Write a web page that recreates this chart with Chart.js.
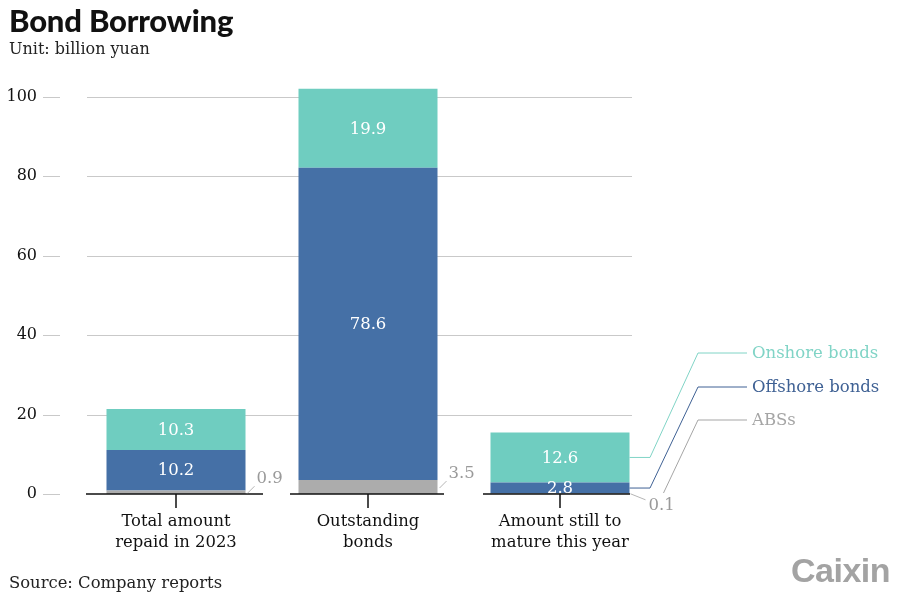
<!DOCTYPE html>
<html>
<head>
<meta charset="utf-8">
<script src="https://cdn.jsdelivr.net/npm/chart.js@4.4.1/dist/chart.umd.min.js"></script>
<style>
  html, body { margin: 0; padding: 0; background: #fff; }
  #wrap { position: relative; width: 900px; height: 599px; overflow: hidden; }
  #c { position: absolute; left: 0; top: 0; }
  .t { position: absolute; left: 9px; white-space: nowrap; }
  #title { top: 1px; font: 900 31px Lato, sans-serif; color: #111; letter-spacing: -0.2px; }
  #unit { top: 39px; font: 16px "DejaVu Serif", serif; color: #222; }
  #src { top: 573px; font: 16.4px "DejaVu Serif", serif; color: #222; }
  #logo { position: absolute; left: 791px; top: 551px; font: bold 34px "Liberation Sans", Arial, sans-serif; color: #a3a3a3; letter-spacing: -0.5px; }
</style>
</head>
<body>
<div id="wrap">
  <canvas id="c" width="900" height="599"></canvas>
  <div class="t" id="title">Bond Borrowing</div>
  <div class="t" id="unit">Unit: billion yuan</div>
  <div class="t" id="src">Source: Company reports</div>
  <div id="logo">Caixin</div>
</div>
<script>
// data
const categories = [['Total amount', 'repaid in 2023'], ['Outstanding', 'bonds'], ['Amount still to', 'mature this year']];
const absValues = [0.9, 3.5, 0.1];
const offshoreValues = [10.2, 78.6, 2.8];
const onshoreValues = [10.3, 19.9, 12.6];
const seriesNames = ['ABSs', 'Offshore bonds', 'Onshore bonds'];
const yTicks = [0, 20, 40, 60, 80, 100];

const SERIF = '"DejaVu Serif", serif';
const colors = { abs: '#acacac', off: '#4570a6', on: '#6fcdc0' };
const labelColors = { abs: '#a5a5a5', off: '#3f6194', on: '#80d4c6' };

// gridlines, ticks, baseline pieces
const axisDecor = {
  id: 'axisDecor',
  beforeDatasetsDraw(chart) {
    const ctx = chart.ctx, y = chart.scales.y;
    ctx.save();
    ctx.strokeStyle = '#c9c9c9';
    ctx.lineWidth = 1;
    yTicks.forEach(v => {
      const py = Math.round(y.getPixelForValue(v)) + 0.5;
      ctx.beginPath();
      ctx.moveTo(43, py); ctx.lineTo(60, py);
      if (v !== 0) { ctx.moveTo(87, py); ctx.lineTo(632, py); }
      ctx.stroke();
    });
    ctx.restore();
  },
  afterDatasetsDraw(chart) {
    const ctx = chart.ctx, x = chart.scales.x, y = chart.scales.y;
    const y0 = y.getPixelForValue(0);
    const ext = [[-90, 87], [-78, 76], [-77, 70]];
    ctx.save();
    ctx.strokeStyle = '#111';
    ctx.lineWidth = 1.5;
    categories.forEach((c, i) => {
      const cx = x.getPixelForValue(i);
      ctx.beginPath();
      ctx.moveTo(cx + ext[i][0], y0); ctx.lineTo(cx + ext[i][1], y0);
      ctx.moveTo(cx, y0); ctx.lineTo(cx, y0 + 14);
      ctx.stroke();
    });
    ctx.restore();
  }
};

// value labels + legend leaders
const valueLabels = {
  id: 'valueLabels',
  afterDraw(chart) {
    const ctx = chart.ctx, y = chart.scales.y;
    ctx.save();
    ctx.font = '16.5px ' + SERIF;
    ctx.textBaseline = 'middle';
    // white labels in offshore/onshore segments
    [1, 2].forEach(di => {
      const meta = chart.getDatasetMeta(di);
      meta.data.forEach((bar, i) => {
        ctx.fillStyle = '#fff';
        ctx.textAlign = 'center';
        const v = chart.data.datasets[di].data[i];
        ctx.fillText(v.toFixed(1), bar.x, (bar.y + bar.base) / 2 + 1);
      });
    });
    // ABS labels outside with leader
    const absMeta = chart.getDatasetMeta(0);
    ctx.strokeStyle = '#b5b5b5';
    ctx.lineWidth = 1;
    ctx.fillStyle = '#9a9a9a';
    ctx.textAlign = 'left';
    absMeta.data.forEach((bar, i) => {
      const right = bar.x + bar.width / 2;
      const ym = (bar.y + bar.base) / 2;
      ctx.beginPath();
      if (i < 2) {
        ctx.moveTo(right + 2, ym + 1);
        ctx.lineTo(right + 9, ym - 6);
        ctx.stroke();
        ctx.fillText(absValues[i].toFixed(1), right + 11, ym - 13);
      } else {
        ctx.moveTo(right + 1, ym);
        ctx.lineTo(right + 16, ym + 6);
        ctx.stroke();
        ctx.fillText(absValues[i].toFixed(1), right + 19, ym + 12);
      }
    });
    // legend leaders from third bar
    const leg = [
      { di: 2, key: 'on', ty: 354, sx: 0 },
      { di: 1, key: 'off', ty: 388, sx: 0 },
      { di: 0, key: 'abs', ty: 421, sx: 34 }
    ];
    ctx.font = '16.5px ' + SERIF;
    leg.forEach(l => {
      const bar = chart.getDatasetMeta(l.di).data[2];
      const right = bar.x + bar.width / 2;
      const ym = (bar.y + bar.base) / 2;
      ctx.strokeStyle = labelColors[l.key];
      ctx.beginPath();
      if (l.sx === 0) {
        ctx.moveTo(right, ym); ctx.lineTo(650, ym);
      } else {
        ctx.moveTo(right + l.sx, y.getPixelForValue(0) - 1);
      }
      ctx.lineTo(698, l.ty - 1);
      ctx.lineTo(747, l.ty - 1);
      ctx.stroke();
      ctx.fillStyle = labelColors[l.key];
      ctx.fillText(seriesNames[l.di], 752, l.ty);
    });
    ctx.restore();
  }
};

new Chart(document.getElementById('c'), {
  type: 'bar',
  data: {
    labels: categories,
    datasets: [
      { label: seriesNames[0], data: absValues, backgroundColor: colors.abs },
      { label: seriesNames[1], data: offshoreValues, backgroundColor: colors.off },
      { label: seriesNames[2], data: onshoreValues, backgroundColor: colors.on }
    ]
  },
  options: {
    responsive: false,
    animation: false,
    devicePixelRatio: 1,
    layout: { padding: { left: 0, right: 244, top: 57, bottom: 0 } },
    datasets: { bar: { categoryPercentage: 1, barPercentage: 0.724, borderWidth: 0 } },
    plugins: { legend: { display: false }, tooltip: { enabled: false } },
    scales: {
      x: {
        stacked: true,
        grid: { display: false, drawTicks: false },
        border: { display: false },
        ticks: { color: '#111', font: { family: SERIF, size: 16.4, lineHeight: 1.28 }, padding: 17, maxRotation: 0 },
        afterFit(s) { s.height = 105; }
      },
      y: {
        stacked: true,
        min: 0, max: 110,
        grid: { display: false, drawTicks: false },
        border: { display: false },
        afterBuildTicks(s) { s.ticks = yTicks.map(v => ({ value: v })); },
        ticks: { color: '#111', font: { family: SERIF, size: 16 }, padding: 43 },
        afterFit(s) { s.width = 80; }
      }
    }
  },
  plugins: [axisDecor, valueLabels]
});
</script>
</body>
</html>
